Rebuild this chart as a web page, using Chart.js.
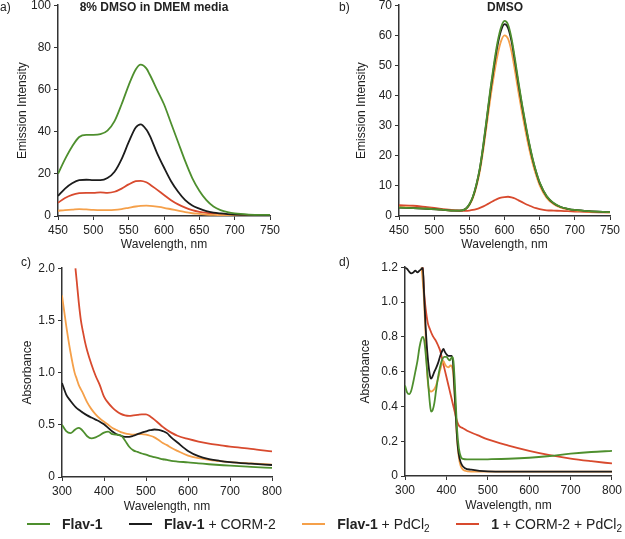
<!DOCTYPE html>
<html><head><meta charset="utf-8">
<script src="https://cdn.jsdelivr.net/npm/chart.js@4.4.1/dist/chart.umd.min.js"></script>
<style>
html,body{margin:0;padding:0;background:#fff;width:625px;height:539px;overflow:hidden;font-family:"Liberation Sans",Arial,sans-serif;color:#222;}
.c{position:absolute;}
.t{position:absolute;font-size:12px;line-height:14px;white-space:nowrap;}
.b{font-weight:bold;}
#legend{position:absolute;left:27px;width:595px;top:516px;height:16px;display:flex;justify-content:space-between;align-items:center;}
.item{display:flex;align-items:center;white-space:nowrap;font-size:14px;line-height:16px;}
.seg{display:inline-block;height:2px;width:23px;margin-right:12px;}
sub{font-size:10px;vertical-align:-3px;line-height:0;}
</style></head><body>
<canvas id="ca" class="c" width="290" height="261" style="left:0;top:-5px"></canvas>
<canvas id="cb" class="c" width="295" height="261" style="left:330px;top:-5px"></canvas>
<canvas id="cc" class="c" width="292" height="260" style="left:0;top:258px"></canvas>
<canvas id="cd" class="c" width="295" height="260" style="left:330px;top:257px"></canvas>

<div class="t" style="left:0;top:0">a)</div>
<div class="t" style="left:339px;top:0">b)</div>
<div class="t" style="left:21px;top:255px">c)</div>
<div class="t" style="left:339px;top:255px">d)</div>
<div class="t b" style="left:154px;top:0;transform:translateX(-50%)">8% DMSO in DMEM media</div>
<div class="t b" style="left:505px;top:0;transform:translateX(-50%)">DMSO</div>

<div id="legend">
  <div class="item"><span class="seg" style="background:#4e8f2e"></span><span class="b">Flav-1</span></div>
  <div class="item"><span class="seg" style="background:#1c1c1c"></span><span><span class="b">Flav-1</span> + CORM-2</span></div>
  <div class="item"><span class="seg" style="background:#f5a04a"></span><span><span class="b">Flav-1</span> + PdCl<sub>2</sub></span></div>
  <div class="item"><span class="seg" style="background:#d84a2e"></span><span><span class="b">1</span> + CORM-2 + PdCl<sub>2</sub></span></div>
</div>

<script>
// ---------- Panel a: emission, 8% DMSO in DMEM ----------
const aWl     = [450,460,470,480,490,500,510,520,530,540,550,560,567,575,580,590,600,610,620,630,640,650,660,670,680,690,700,720,750];
const aGreen  = [20,27,33,37.5,38.5,38.5,38.8,40.5,45,53,62,69.5,71.8,70,67,60,53,44,35,26,18,12,7.5,4.5,2.8,1.8,1.2,0.7,0.5];
const aBlack  = [9.5,13,15.5,17,17.2,17,17,18,21,27,35,42,43.5,41,38,30,23,16.5,11.5,7.5,5,3.5,2.3,1.6,1.2,0.9,0.7,0.5,0.4];
const aOrange = [2.5,2.8,3,3.3,3.1,2.9,2.8,2.8,2.9,3.3,3.9,4.5,4.8,4.9,4.8,4.4,3.9,3.2,2.5,1.8,1.3,1,0.7,0.5,0.4,0.3,0.3,0.2,0.2];
const aRed    = [6.3,8.5,10,10.8,11,11,11.2,11,11.5,13,15,16.5,16.7,16,15,12.5,10,7.5,5.5,4,2.8,2,1.5,1.2,0.9,0.7,0.6,0.4,0.3];
const aYTicks = [0,20,40,60,80,100];

// ---------- Panel b: emission, DMSO ----------
const bWl     = [450,470,490,510,530,540,545,550,555,560,565,570,575,580,585,590,595,600,605,610,615,620,625,630,635,640,645,650,660,670,680,690,700,720,750];
const bGreen  = [2.8,2.6,2.4,2.1,1.8,1.9,2.4,3.9,6.4,10.5,16,24,33,42.3,50.5,57.6,62.6,64.8,63.6,59,52,44.3,37.1,30.5,24.4,19.1,14.7,11.2,6.6,4.3,3,2.4,2,1.6,1.3];
const bBlack  = [2.8,2.6,2.4,2.1,1.8,1.9,2.4,3.8,6.3,10.3,15.8,23.5,32.5,41.5,49.5,56.5,61.5,63.7,62.5,58,51,43.5,36.5,30,24,18.8,14.5,11,6.5,4.2,3,2.4,2,1.6,1.3];
const bOrange = [3,2.8,2.5,2.1,1.8,1.9,2.3,3.6,5.9,9.7,14.9,22.2,30.7,39.2,46.7,53.3,58,60,58.9,54.6,48,40.9,34.2,28,22.4,17.5,13.5,10.2,6,3.9,2.8,2.2,1.9,1.5,1.2];
const bRed    = [3.6,3.4,2.9,2.4,1.9,1.7,1.7,1.8,2,2.3,2.7,3.2,3.8,4.5,5.1,5.7,6.1,6.3,6.4,6.2,5.8,5.2,4.6,4,3.5,3,2.6,2.3,1.9,1.8,1.7,1.6,1.5,1.3,1.2];
const bYTicks = [0,10,20,30,40,50,60,70];

// ---------- Panel c: absorbance, 8% DMSO in DMEM ----------
const cWl     = [300,310,320,330,335,340,345,350,360,370,380,390,400,410,420,430,440,450,460,470,480,490,500,510,520,530,540,550,560,575,600,625,650,675,700,750,800];
const cGreen  = [0.50,0.44,0.42,0.45,0.465,0.47,0.46,0.44,0.39,0.37,0.38,0.40,0.425,0.435,0.41,0.405,0.40,0.35,0.29,0.255,0.24,0.225,0.215,0.20,0.19,0.18,0.17,0.165,0.155,0.148,0.14,0.13,0.122,0.115,0.108,0.097,0.087];
const cBlack  = [0.90,0.79,0.73,0.68,0.66,0.645,0.63,0.615,0.59,0.57,0.55,0.53,0.505,0.47,0.435,0.41,0.395,0.385,0.385,0.395,0.41,0.425,0.437,0.448,0.455,0.452,0.44,0.42,0.38,0.33,0.25,0.2,0.172,0.155,0.143,0.128,0.115];
const cOrange = [1.74,1.45,1.2,1.0,0.94,0.88,0.84,0.80,0.715,0.65,0.60,0.56,0.53,0.50,0.47,0.45,0.43,0.418,0.41,0.405,0.41,0.41,0.405,0.395,0.38,0.355,0.325,0.305,0.28,0.25,0.205,0.18,0.165,0.152,0.143,0.13,0.118];
const cRedWl  = [332,335,340,345,350,355,360,370,380,390,400,410,420,430,440,450,460,470,480,490,500,510,520,530,540,550,560,575,600,625,650,675,700,750,800];
const cRed    = [2.0,1.88,1.67,1.5,1.39,1.29,1.21,1.08,0.97,0.88,0.77,0.71,0.665,0.63,0.605,0.59,0.585,0.59,0.595,0.6,0.6,0.58,0.55,0.515,0.48,0.45,0.425,0.395,0.365,0.34,0.32,0.305,0.29,0.27,0.245];
const cYTicks = [0,0.5,1.0,1.5,2.0];

// ---------- Panel d: absorbance, DMSO ----------
const dGreenWl  = [300,305,310,315,320,325,330,335,340,343,347,350,355,360,363,367,371,375,380,385,390,395,400,405,408,411,414,417,420,423,426,430,435,440,450,475,500,550,600,650,700,750,800];
const dGreen    = [0.52,0.48,0.47,0.49,0.54,0.6,0.66,0.74,0.79,0.80,0.77,0.70,0.56,0.42,0.37,0.38,0.42,0.49,0.57,0.63,0.67,0.685,0.685,0.67,0.665,0.675,0.685,0.66,0.55,0.40,0.26,0.16,0.11,0.098,0.095,0.095,0.096,0.099,0.105,0.115,0.128,0.138,0.144];
const dBlackWl  = [300,305,310,315,320,325,330,335,340,343,346,350,355,360,363,367,371,375,380,385,390,393,396,400,405,410,413,416,419,422,425,428,432,437,445,460,480,500,600,700,800];
const dBlack    = [1.2,1.19,1.175,1.165,1.17,1.18,1.17,1.18,1.19,1.2,1.05,0.85,0.68,0.58,0.56,0.575,0.6,0.62,0.65,0.69,0.72,0.73,0.715,0.70,0.69,0.69,0.69,0.65,0.52,0.38,0.25,0.16,0.1,0.065,0.045,0.036,0.03,0.027,0.025,0.025,0.025];
const dOrangeWl = [340,345,350,353,356,360,363,367,371,375,380,385,390,393,396,400,405,410,413,416,419,422,425,428,432,437,445,460,500,550,600,650,700,750,800];
const dOrange   = [1.2,1.05,0.8,0.62,0.52,0.49,0.485,0.49,0.50,0.52,0.56,0.61,0.65,0.66,0.645,0.63,0.625,0.635,0.63,0.6,0.5,0.37,0.24,0.15,0.08,0.045,0.03,0.025,0.025,0.025,0.025,0.025,0.025,0.025,0.025];
const dRedWl    = [343,345,347,350,355,360,367,375,380,385,390,395,400,405,410,415,420,425,430,440,450,475,500,550,600,650,700,750,800];
const dRed      = [1.2,1.1,1.03,0.96,0.88,0.845,0.805,0.775,0.75,0.72,0.67,0.62,0.57,0.52,0.47,0.42,0.37,0.32,0.29,0.275,0.26,0.235,0.21,0.175,0.145,0.12,0.1,0.085,0.072];
const dYTicks = [0,0.2,0.4,0.6,0.8,1.0,1.2];

const seriesNames = ['Flav-1','Flav-1 + CORM-2','Flav-1 + PdCl2','1 + CORM-2 + PdCl2'];
const COLORS = ['#4e8f2e','#1c1c1c','#f5a04a','#d84a2e'];
const FF = '"Liberation Sans", Arial, sans-serif';

function pts(xs, ys){ return xs.map((x,i)=>({x:x, y:ys[i]})); }

function ds(i, xs, ys){
  return {label:seriesNames[i], data:pts(xs,ys), borderColor:COLORS[i], borderWidth:1.8,
          pointRadius:0, fill:false, cubicInterpolationMode:'monotone'};
}

function scale(o){
  return {
    type:'linear', min:o.min, max:o.max,
    afterBuildTicks: o.ticks ? (s)=>{ s.ticks = o.ticks.map(v=>({value:v})); } : undefined,
    ticks:{stepSize:o.step, autoSkip:false, maxRotation:0, color:'#222', padding:3,
           font:{size:12, family:FF}, callback:o.cb},
    grid:{drawOnChartArea:false, drawTicks:true, tickLength:4, color:'#333', lineWidth:1},
    border:{display:true, color:'#333', width:1.5},
    title:{display:true, text:o.title, color:'#222', font:{size:12, family:FF}, padding:o.tpad},
    afterFit:(s)=>{ if(o.w!==undefined) s.width=o.w; if(o.h!==undefined) s.height=o.h; }
  };
}

function make(id, datasets, xo, yo, padRight){
  new Chart(document.getElementById(id), {
    type:'line',
    data:{datasets:datasets},
    options:{
      responsive:false, animation:false, events:[],
      layout:{padding:{top:10, right:padRight, left:0, bottom:0}},
      plugins:{legend:{display:false}, tooltip:{enabled:false}, title:{display:false}},
      scales:{x:scale(xo), y:scale(yo)}
    }
  });
}

const absCb = v => v===0 ? '0' : Number(v).toFixed(1);

make('ca', [ds(0,aWl,aGreen), ds(1,aWl,aBlack), ds(2,aWl,aOrange), ds(3,aWl,aRed)],
  {min:450,max:750,step:50,title:'Wavelength, nm',tpad:{top:0,bottom:4},h:40},
  {min:0,max:100,ticks:aYTicks,title:'Emission Intensity',tpad:{top:15,bottom:0},w:58}, 20);

make('cb', [ds(0,bWl,bGreen), ds(1,bWl,bBlack), ds(2,bWl,bOrange), ds(3,bWl,bRed)],
  {min:450,max:750,step:50,title:'Wavelength, nm',tpad:{top:0,bottom:4},h:40},
  {min:0,max:70,ticks:bYTicks,title:'Emission Intensity',tpad:{top:24,bottom:0},w:69}, 15);

make('cc', [ds(0,cWl,cGreen), ds(1,cWl,cBlack), ds(2,cWl,cOrange), ds(3,cRedWl,cRed)],
  {min:300,max:800,step:100,title:'Wavelength, nm',tpad:{top:0,bottom:4},h:41},
  {min:0,max:2,ticks:cYTicks,cb:absCb,title:'Absorbance',tpad:{top:20,bottom:0},w:62}, 20);

make('cd', [ds(0,dGreenWl,dGreen), ds(1,dBlackWl,dBlack), ds(2,dOrangeWl,dOrange), ds(3,dRedWl,dRed)],
  {min:300,max:800,step:100,title:'Wavelength, nm',tpad:{top:0,bottom:4},h:41},
  {min:0,max:1.2,ticks:dYTicks,cb:absCb,title:'Absorbance',tpad:{top:28,bottom:0},w:75}, 10);
</script>
</body></html>
